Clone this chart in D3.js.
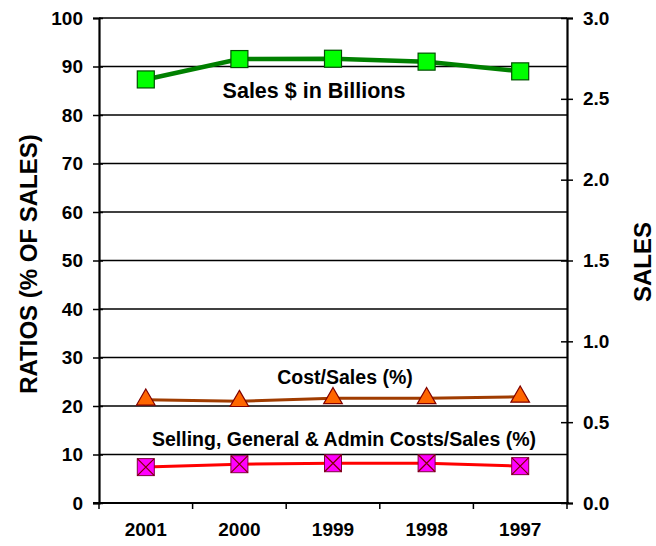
<!DOCTYPE html>
<html><head><meta charset="utf-8">
<script src="https://cdn.jsdelivr.net/npm/d3@7"></script>
<style>body{margin:0;background:#fff}text{font-family:"Liberation Sans",Arial,sans-serif;font-weight:bold}</style>
</head><body>
<svg id="c" width="656" height="546"></svg>
<script>
const years = ["2001","2000","1999","1998","1997"];
const salesBillions = [2.62, 2.746, 2.748, 2.73, 2.67];
const costSalesPct = [21.3, 21.0, 21.6, 21.6, 21.9];
const sgaSalesPct = [7.4, 8.0, 8.2, 8.2, 7.6];
const leftTicks = [0,10,20,30,40,50,60,70,80,90,100];
const rightTicks = [0,0.5,1.0,1.5,2.0,2.5,3.0];

const svg = d3.select("#c");
const L = 99, R = 567, T = 18, B = 503;
const x = d3.scaleBand().domain(years).range([L, R]);
const yL = d3.scaleLinear().domain([0,100]).range([B, T]);
const yR = d3.scaleLinear().domain([0,3]).range([B, T]);
const cx = d => x(d) + x.bandwidth()/2;
const tickStyle = sel => sel.style("font-family","'Liberation Sans', Arial, sans-serif").style("font-size","19px")
  .style("font-weight","bold").attr("fill","#000");

// gridlines
svg.append("g").selectAll("line").data(leftTicks).join("line")
  .attr("x1", L).attr("x2", R).attr("y1", d=>yL(d)).attr("y2", d=>yL(d))
  .attr("stroke","#000").attr("stroke-width",1.3);

// left axis
const gL = svg.append("g").attr("transform",`translate(${L},0)`)
  .call(d3.axisLeft(yL).tickValues(leftTicks).tickSize(6).tickPadding(10).tickFormat(d3.format("d")));
gL.select(".domain").attr("stroke-width",2.2);
gL.selectAll(".tick line").attr("x2",4).attr("x1",-6).attr("stroke-width",1.5);
gL.selectAll(".tick text").call(tickStyle);

// right axis
const gR = svg.append("g").attr("transform",`translate(${R},0)`)
  .call(d3.axisRight(yR).tickValues(rightTicks).tickSize(6).tickPadding(10).tickFormat(d3.format(".1f")));
gR.select(".domain").attr("stroke-width",2.2);
gR.selectAll(".tick line").attr("x1",-6).attr("x2",6).attr("stroke-width",1.5);
gR.selectAll(".tick text").call(tickStyle);

// bottom axis
const gB = svg.append("g").attr("transform",`translate(0,${B})`)
  .call(d3.axisBottom(x).tickSize(0).tickPadding(20));
gB.select(".domain").attr("stroke-width",2.2).attr("d",`M${L-6},0H${R+2}`);
gB.selectAll(".tick text").call(tickStyle);
const bounds = years.map(d=>x(d)).concat([R]);
svg.append("g").selectAll("line").data(bounds).join("line")
  .attr("x1",d=>d).attr("x2",d=>d).attr("y1",B).attr("y2",B+6)
  .attr("stroke","#000").attr("stroke-width",1.5);

// axis titles
svg.append("text").attr("transform",`translate(37,264) rotate(-90)`).attr("text-anchor","middle")
  .attr("font-size",24).text("RATIOS (% OF SALES)");
svg.append("text").attr("transform",`translate(651,262) rotate(-90)`).attr("text-anchor","middle")
  .attr("font-size",24).text("SALES");

// sales line
const lineR = d3.line().x((d,i)=>cx(years[i])).y(d=>yR(d));
const lineL = d3.line().x((d,i)=>cx(years[i])).y(d=>yL(d));
svg.append("path").attr("d",lineR(salesBillions)).attr("fill","none").attr("stroke","#008000").attr("stroke-width",4.5);
svg.append("g").selectAll("rect").data(salesBillions).join("rect")
  .attr("x",(d,i)=>cx(years[i])-8.5).attr("y",d=>yR(d)-8.5).attr("width",17).attr("height",17)
  .attr("fill","#00ff00").attr("stroke","#005000").attr("stroke-width",1.2);

// cost line
svg.append("path").attr("d",lineL(costSalesPct)).attr("fill","none").attr("stroke","#a03c00").attr("stroke-width",3);
const tri = d3.symbol().type(d3.symbolTriangle).size(150);
svg.append("g").selectAll("path").data(costSalesPct).join("path")
  .attr("d",tri).attr("transform",(d,i)=>`translate(${cx(years[i])},${yL(d)})`)
  .attr("fill","#ff6600").attr("stroke","#800000").attr("stroke-width",1.2);

// SG&A line
svg.append("path").attr("d",lineL(sgaSalesPct)).attr("fill","none").attr("stroke","#ff0000").attr("stroke-width",3);
const gs = svg.append("g").selectAll("g").data(sgaSalesPct).join("g")
  .attr("transform",(d,i)=>`translate(${cx(years[i])},${yL(d)})`);
gs.append("rect").attr("x",-8.5).attr("y",-8.5).attr("width",17).attr("height",17).attr("fill","#ff00ff").attr("stroke","#800040").attr("stroke-width",1);
gs.append("path").attr("d","M-8.5,-8.5L8.5,8.5M8.5,-8.5L-8.5,8.5").attr("stroke","#800000").attr("stroke-width",1.2);

// labels
svg.append("text").attr("x",314).attr("y",98).attr("text-anchor","middle").attr("font-size",21.5).text("Sales $ in Billions");
svg.append("text").attr("x",345).attr("y",384).attr("text-anchor","middle").attr("font-size",19.5).text("Cost/Sales (%)");
svg.append("text").attr("x",344).attr("y",446).attr("text-anchor","middle").attr("font-size",19.5).text("Selling, General & Admin Costs/Sales (%)");
</script>
</body></html>
